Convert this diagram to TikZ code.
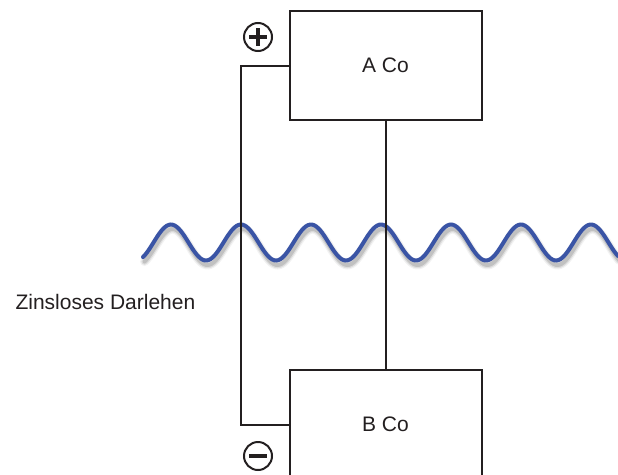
\documentclass[tikz,border=0pt]{standalone}
\usepackage{fontspec}
\setmainfont{Liberation Sans}
\usepackage{tikz}
\definecolor{wavecol}{RGB}{58,84,165}
\definecolor{inkcol}{RGB}{35,31,32}

\begin{document}
\begin{tikzpicture}[x=1pt,y=-1pt,
    company/.style={draw=inkcol,line width=2pt,minimum width=192pt,minimum height=109pt,
                    inner sep=0pt,font=\fontsize{21}{25}\selectfont,text=inkcol},
    sign/.style={circle,draw=inkcol,line width=2pt,minimum size=28pt,inner sep=0pt},
    wire/.style={draw=inkcol,line width=2pt},
    wave/.style={wavecol,line width=4pt,line cap=round},
    shade/.style={gray,line cap=round},
    note/.style={font=\fontsize{21}{25}\selectfont,text=inkcol}]

  \useasboundingbox (0,0) rectangle (618,474);

  % period 70, so 360/70 degrees per unit
  \def\wavepath{plot[domain=143:618,samples=240]
                 (\x,{242.5-18*cos(5.142857*(\x-171))})}

  % --- wave with soft shadow ---
  \begin{scope}[shift={(1.5,4.5)}]
    \draw[shade,line width=9pt,opacity=0.10] \wavepath;
    \draw[shade,line width=6.5pt,opacity=0.18] \wavepath;
    \draw[shade,line width=4pt,opacity=0.30] \wavepath;
  \end{scope}
  \draw[wave] \wavepath;

  % --- companies ---
  \node[company] (aco) at (385.5,65.5) {A Co};
  \node[company] (bco) at (385.5,424.5) {B Co};

  % --- connections ---
  \draw[wire] (aco.south) -- (bco.north);
  \draw[wire] (aco.west) -- ++(-47.5,0) |- (bco.west);

  % --- signs ---
  \node[sign,path picture={
      \draw[inkcol,line width=3.2pt] (path picture bounding box.center) ++(-9,0) -- ++(18,0);
      \draw[inkcol,line width=3.2pt] (path picture bounding box.center) ++(0,-9) -- ++(0,18);
    }] (plus) at (258,37) {};
  \node[sign,path picture={
      \draw[inkcol,line width=4pt] (path picture bounding box.center) ++(-9,0) -- ++(18,0);
    }] (minus) at (258,456) {};

  \node[note,anchor=west] (loan) at (12,302) {Zinsloses Darlehen};

\end{tikzpicture}
\end{document}
